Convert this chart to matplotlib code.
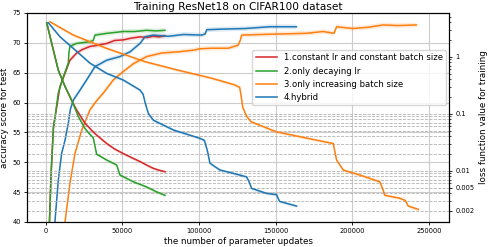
import matplotlib
matplotlib.use("Agg")
import matplotlib.pyplot as plt
import numpy as np
from matplotlib.ticker import FixedLocator, FixedFormatter, NullFormatter

# ---- data ----
labels = ["1.constant lr and constant batch size", "2.only decaying lr",
          "3.only increasing batch size", "4.hybrid"]
colors = ["#d62728", "#2ca02c", "#ff7f0e", "#1f77b4"]

# accuracy (left axis)
red_acc_x = [1000, 2400, 3500, 5000, 7200, 9300, 12600, 15800, 20200, 24000, 28900, 34000,
             39800, 45000, 50600, 56000, 61500, 66000, 70000, 74000, 77800]
red_acc = [30, 40, 48, 55.9, 59.3, 62.7, 64.9, 67.1, 68.3, 68.9, 69.4, 69.6,
           69.9, 70.4, 70.5, 70.8, 71.0, 70.9, 71.1, 71.0, 71.2]
green_acc_x = [1000, 2500, 3500, 5000, 8200, 11500, 14700, 15200, 15800, 20000, 28900, 31000,
               32100, 40000, 50600, 58000, 65800, 72000, 77800]
green_acc = [30, 40, 48, 55.5, 61.6, 64.3, 66.6, 68.5, 69.4, 69.9, 70.2, 70.4,
             71.3, 71.6, 71.9, 71.9, 72.1, 72.0, 72.1]
orange_acc_x = [9000, 12600, 15800, 19100, 23500, 28900, 33200, 37600, 44100, 50600, 57100,
                61500, 65800, 75600, 86500, 97300, 100000, 108200, 119000, 125500, 127000,
                127800, 140000, 155000, 170000, 180900, 188000, 189700, 200000, 210000,
                220100, 230000, 241800]
orange_acc = [30, 40, 46.5, 51.5, 55.4, 58.8, 60.3, 61.6, 63.8, 65.2, 66.5,
              67.1, 67.7, 68.3, 68.5, 68.8, 69.0, 69.1, 69.1, 69.6, 70.5,
              71.3, 71.4, 71.5, 71.6, 71.9, 71.6, 72.7, 72.4, 72.6,
              73.0, 72.9, 73.0]
blue_acc_x = [4000, 6100, 8200, 10400, 12600, 14700, 16000, 18000, 22400, 26700, 32100, 39800,
              48400, 55000, 61500, 64700, 70000, 80000, 90000, 101700, 104000, 105000,
              115000, 130000, 146200, 163500]
blue_acc = [30, 40.3, 47.0, 51.5, 53.7, 56.5, 58.8, 60.4, 62.1, 63.8, 66.0, 67.1,
            67.7, 68.5, 69.9, 71.0, 71.3, 71.1, 71.4, 71.3, 71.5, 72.2,
            72.3, 72.4, 72.7, 72.7]

# loss (right axis, log)
red_loss_x = [650, 3900, 8200, 12600, 16900, 20200, 25600, 32000, 39800, 45000, 50600,
              56000, 61500, 66000, 70200, 74000, 77800]
red_loss = [3.95, 1.72, 0.58, 0.30, 0.17, 0.116, 0.068, 0.045, 0.030, 0.024, 0.020,
            0.017, 0.0145, 0.0125, 0.011, 0.0102, 0.0096]
green_loss_x = [650, 3900, 8200, 12600, 16900, 21300, 25600, 29000, 31000, 32000, 33200,
                39800, 46300, 47000, 48400, 57100, 65800, 72000, 77800]
green_loss = [3.95, 1.72, 0.58, 0.30, 0.174, 0.089, 0.055, 0.043, 0.038, 0.028, 0.0195,
              0.0154, 0.0126, 0.011, 0.0084, 0.0064, 0.0052, 0.0043, 0.0037]
orange_loss_x = [2800, 18000, 39800, 64700, 86400, 108200, 123400, 126500, 127500, 128500,
                 131000, 134000, 150600, 165800, 187500, 188500, 189700, 194000, 204900,
                 217900, 219500, 221200, 230900, 234500, 236400, 243000]
orange_loss = [4.1, 2.4, 1.40, 0.82, 0.58, 0.42, 0.32, 0.29, 0.2, 0.13,
               0.09, 0.072, 0.048, 0.0395, 0.030, 0.022, 0.0154, 0.0103, 0.0084,
               0.0064, 0.0050, 0.0037, 0.0033, 0.0030, 0.0024, 0.0021]
blue_loss_x = [1700, 9300, 18000, 28900, 39800, 50600, 61500, 63500, 65000, 67000, 70200,
               83200, 100600, 103500, 105500, 107100, 113600, 122300, 131000, 132500,
               134300, 144100, 150600, 151500, 152500, 163600]
blue_loss = [3.95, 2.24, 1.40, 0.77, 0.51, 0.39, 0.26, 0.22, 0.15, 0.10, 0.077,
             0.052, 0.037, 0.034, 0.022, 0.0135, 0.0103, 0.0090, 0.0078, 0.0065,
             0.0049, 0.0040, 0.0038, 0.0033, 0.0029, 0.0024]

acc_xs = [red_acc_x, green_acc_x, orange_acc_x, blue_acc_x]
accs = [red_acc, green_acc, orange_acc, blue_acc]
loss_xs = [red_loss_x, green_loss_x, orange_loss_x, blue_loss_x]
losses = [red_loss, green_loss, orange_loss, blue_loss]

loss_ticks = [1, 0.1, 0.01, 0.005, 0.002]
loss_ticklabels = ["1", "0.1", "0.01", "0.005", "0.002"]
loss_grid = [0.1, 0.09, 0.08, 0.07, 0.06, 0.05, 0.04, 0.03, 0.02,
             0.01, 0.009, 0.008, 0.007, 0.006, 0.005, 0.004, 0.003, 0.002]

# ---- figure ----
fig = plt.figure(figsize=(4.88, 2.47), dpi=100)
ax1 = fig.add_axes([27 / 488, 1 - 222 / 247, 422 / 488, 209 / 247])
ax2 = ax1.twinx()

handles = []
for i in range(4):
    x = np.array(acc_xs[i])
    y = np.array(accs[i])
    ax1.fill_between(x, y - 0.4, y + 0.4, color=colors[i], alpha=0.15, lw=0)
    h, = ax1.plot(x, y, color=colors[i], lw=1.1)
    handles.append(h)
    xl = np.array(loss_xs[i])
    yl = np.array(losses[i])
    ax2.fill_between(xl, yl / 1.06, yl * 1.06, color=colors[i], alpha=0.15, lw=0)
    ax2.plot(xl, yl, color=colors[i], lw=1.1)

for v in loss_grid:
    ax2.axhline(v, color="0.7", ls="--", lw=0.6, zorder=0)

ax1.set_xlim(-12200, 263000)
ax1.set_ylim(40, 75)
ax1.set_xticks([0, 50000, 100000, 150000, 200000, 250000])
ax1.set_yticks([40, 45, 50, 55, 60, 65, 70, 75])
ax1.grid(True, color="#cccccc", lw=0.8)
ax1.set_axisbelow(True)

ax2.set_yscale("log")
ax2.set_ylim(0.00126, 5.85)
ax2.yaxis.set_major_locator(FixedLocator(loss_ticks))
ax2.yaxis.set_major_formatter(FixedFormatter(loss_ticklabels))
ax2.yaxis.set_minor_formatter(NullFormatter())

ax1.tick_params(labelsize=4.8, length=2.5, width=0.6, pad=2)
ax2.tick_params(labelsize=4.8, length=2.5, width=0.6, pad=2)
ax2.tick_params(which="minor", length=1.5, width=0.5)

ax1.set_xlabel("the number of parameter updates", fontsize=6.3, labelpad=2)
ax1.set_ylabel("accuracy score for test", fontsize=6.3, labelpad=2)
ax2.set_ylabel("loss function value for training", fontsize=6.3, labelpad=3)
ax1.set_title("Training ResNet18 on CIFAR100 dataset", fontsize=7.6, pad=2)

ax2.legend(handles, labels, loc="upper right", fontsize=6.1,
           bbox_to_anchor=(446 / 488, 1 - 50 / 247), bbox_transform=fig.transFigure,
           borderaxespad=0, handlelength=2.5)

fig.savefig("out.png", dpi=100)
